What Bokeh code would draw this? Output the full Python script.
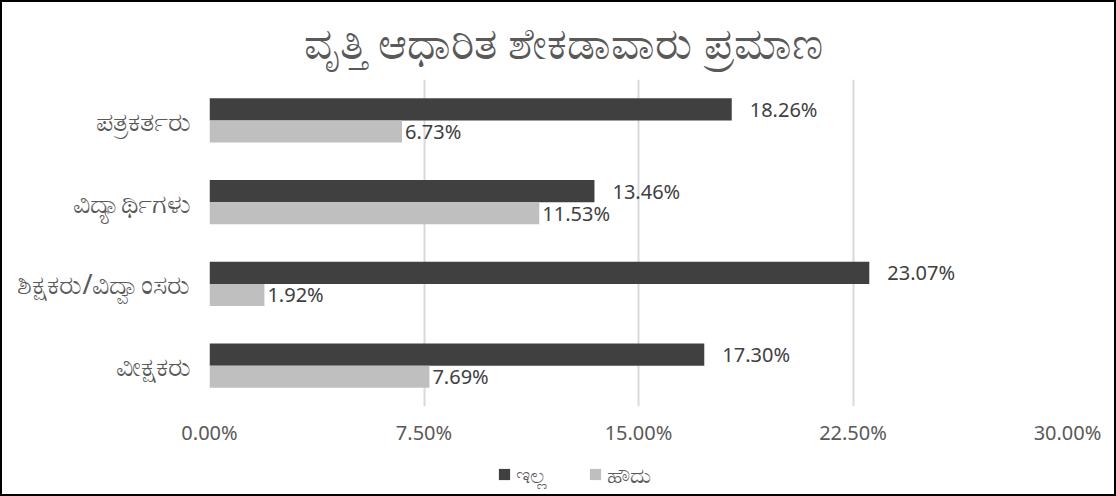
from bokeh.plotting import figure
from bokeh.layouts import column
from bokeh.models import ColumnDataSource, FactorRange, Range1d, Legend, LegendItem, FixedTicker
from bokeh.transform import dodge
from bokeh.core.properties import value
from bokeh.embed import file_html
from bokeh.resources import INLINE

title_text = "ವೃತ್ತಿ ಆಧಾರಿತ ಶೇಕಡಾವಾರು ಪ್ರಮಾಣ"
categories = ["ವೀಕ್ಷಕರು", "ಶಿಕ್ಷಕರು/ವಿದ್ವಾಂಸರು", "ವಿದ್ಯಾರ್ಥಿಗಳು", "ಪತ್ರಕರ್ತರು"]
series_names = ["ಇಲ್ಲ", "ಹೌದು"]
illa = [17.30, 23.07, 13.46, 18.26]
houdu = [7.69, 1.92, 11.53, 6.73]
x_ticks = [0, 7.5, 15, 22.5, 30]

FONT = "Noto Sans"
DARK = "#404040"
LIGHT = "#bfbfbf"
src = ColumnDataSource(dict(
    cat=categories,
    illa=illa,
    houdu=houdu,
    illa_lbl=[f"{v:.2f}%" for v in illa],
    houdu_lbl=[f"{v:.2f}%" for v in houdu],
))

p = figure(width=1112, height=450, y_range=FactorRange(*categories), x_range=Range1d(0, 30),
           output_backend="svg", toolbar_location=None,
           min_border_left=207, min_border_right=47, min_border_top=76, min_border_bottom=46)
p.outline_line_color = None
p.background_fill_color = "white"
p.border_fill_color = "white"

p.title.text = title_text
p.title.align = "left"
p.title.offset = 94
p.title.text_font = FONT
p.title.text_font_size = "44px"
p.title.text_font_style = "normal"
p.title.text_color = "#595959"
p.title.standoff = 15

bw = 0.27
r1 = p.hbar(y=dodge("cat", bw / 2, range=p.y_range), right="illa", height=bw, left=0,
            source=src, fill_color=DARK, line_color=None)
r2 = p.hbar(y=dodge("cat", -bw / 2, range=p.y_range), right="houdu", height=bw, left=0,
            source=src, fill_color=LIGHT, line_color=None)

p.text(x="illa", y=dodge("cat", bw / 2, range=p.y_range), text="illa_lbl", source=src,
       x_offset=18, text_baseline="middle", text_font=value(FONT), text_font_size="20px",
       text_color=DARK)
p.text(x="houdu", y=dodge("cat", -bw / 2, range=p.y_range), text="houdu_lbl", source=src,
       x_offset=3, text_baseline="middle", text_font=value(FONT), text_font_size="20px",
       text_color=DARK)

p.xaxis.ticker = FixedTicker(ticks=x_ticks)
p.xaxis.major_label_overrides = {t: f"{t:.2f}%" for t in x_ticks}
p.xaxis.axis_line_color = None
p.xaxis.major_tick_line_color = None
p.xaxis.minor_tick_line_color = None
p.xaxis.major_tick_out = 0
p.xaxis.major_tick_in = 0
p.xaxis.major_label_text_font = FONT
p.xaxis.major_label_text_font_size = "20px"
p.xaxis.major_label_text_color = "#595959"
p.xaxis.major_label_standoff = 12

p.yaxis.axis_line_color = None
p.yaxis.major_tick_line_color = None
p.yaxis.minor_tick_line_color = None
p.yaxis.major_tick_out = 0
p.yaxis.major_tick_in = 0
p.yaxis.major_label_text_font = FONT
p.yaxis.major_label_text_font_size = "27px"
p.yaxis.major_label_text_color = "#595959"
p.yaxis.major_label_standoff = 19

p.xgrid.grid_line_color = "#d9d9d9"
p.xgrid.grid_line_width = 2
p.ygrid.grid_line_color = None

# legend strip below the chart (its frame is aligned with the chart's frame)
pl = figure(width=1112, height=42, x_range=Range1d(0, 1), y_range=Range1d(0, 1),
            output_backend="svg", toolbar_location=None,
            min_border_left=0, min_border_right=0, min_border_top=0, min_border_bottom=0)
pl.axis.visible = False
pl.grid.visible = False
pl.outline_line_color = None
pl.background_fill_color = "white"
pl.border_fill_color = "white"
# swatch renderers kept outside the visible range; only their legend glyphs show
l1 = pl.hbar(y=[-5], right=[-4], left=-5, height=0.1, fill_color=DARK, line_color=None)
l2 = pl.hbar(y=[-5], right=[-4], left=-5, height=0.1, fill_color=LIGHT, line_color=None)
legend = Legend(items=[LegendItem(label=series_names[0], renderers=[l1]),
                       LegendItem(label=series_names[1], renderers=[l2])],
                orientation="horizontal", location=(288, 5),
                border_line_color=None, background_fill_alpha=0,
                label_text_font=FONT, label_text_font_size="22px", label_text_color="#595959",
                glyph_width=14, glyph_height=14, spacing=41, padding=0, margin=0,
                label_standoff=5)
pl.add_layout(legend, "center")

layout = column(p, pl, spacing=0)
layout.styles = {"border": "2px solid black"}

open("out.html", "w").write(file_html(layout, INLINE))
